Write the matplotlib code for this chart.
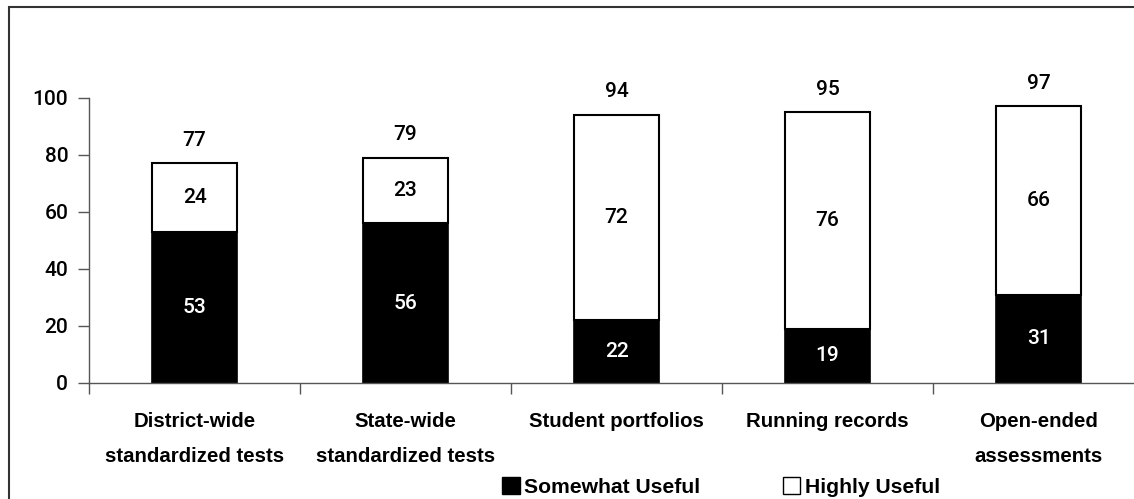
import matplotlib
matplotlib.use("Agg")
import matplotlib.pyplot as plt
from matplotlib.patches import Patch, Rectangle

categories = ["District-wide\nstandardized tests", "State-wide\nstandardized tests",
              "Student portfolios", "Running records", "Open-ended\nassessments"]
somewhat = [53, 56, 22, 19, 31]
highly = [24, 23, 72, 76, 66]
totals = [77, 79, 94, 95, 97]
yticks = [0, 20, 40, 60, 80, 100]

W, H = 1134, 499
fig = plt.figure(figsize=(W / 100, H / 100), dpi=100)

# axes placed in pixels: x 89..1144, y(0)=383, y(100)=97.7
ax = fig.add_axes([89 / W, (H - 383) / H, (1144 - 89) / W, (383 - 97.7) / H])

num_font = dict(family=["Roboto", "Liberation Sans", "DejaVu Sans"], size=15, weight="medium")
lab_font = dict(family=["Liberation Sans", "DejaVu Sans"], size=14.7, weight="bold")

x = list(range(len(categories)))
bw = 0.403
ax.bar(x, somewhat, width=bw, color="black", edgecolor="black", linewidth=1.2)
ax.bar(x, highly, width=bw, bottom=somewhat, color="white", edgecolor="black", linewidth=1.5)

for i in x:
    ax.text(i, somewhat[i] / 2, str(somewhat[i]), ha="center", va="center",
            color="white", **num_font)
    ax.text(i, somewhat[i] + highly[i] / 2, str(highly[i]), ha="center", va="center",
            color="black", **num_font)
    ax.text(i, totals[i] + 8, str(totals[i]), ha="center", va="center",
            color="black", clip_on=False, **num_font)

ax.set_xlim(-0.5, len(categories) - 0.5)
ax.set_ylim(0, 100)
ax.set_yticks(yticks)
ax.set_yticklabels([str(v) for v in yticks], **num_font)

ax.set_xticks(x)
ax.set_xticklabels(categories, linespacing=2.05, **lab_font)
ax.set_xticks([i - 0.5 for i in x] + [len(x) - 0.5], minor=True)
ax.tick_params(axis="x", which="major", length=0, pad=21)
ax.tick_params(axis="x", which="minor", length=8, width=1, color="#555555", direction="out")
ax.tick_params(axis="y", length=8, width=1, color="#555555", pad=7)

for s in ["top", "right"]:
    ax.spines[s].set_visible(False)
for s in ["left", "bottom"]:
    ax.spines[s].set_color("#555555")
    ax.spines[s].set_linewidth(1)

handles = [Patch(facecolor="black", edgecolor="black", label="Somewhat Useful"),
           Patch(facecolor="white", edgecolor="black", label="Highly Useful")]
fig.legend(handles=handles, loc="center", bbox_to_anchor=(721 / W, 1 - 487 / H),
           ncol=2, frameon=False, handlelength=0.84, handleheight=0.84,
           handletextpad=0.2, columnspacing=3.9, borderaxespad=0, borderpad=0,
           prop=dict(family=["Liberation Sans", "DejaVu Sans"], size=15.2, weight="bold"))

# outer frame (cropped on right and bottom)
fig.patches.append(Rectangle((8.5 / W, -0.1), 1.2, 1 - 7.5 / H + 0.1,
                             transform=fig.transFigure, fill=False,
                             edgecolor="#333333", linewidth=1.5))

fig.savefig("out.png", dpi=100)
